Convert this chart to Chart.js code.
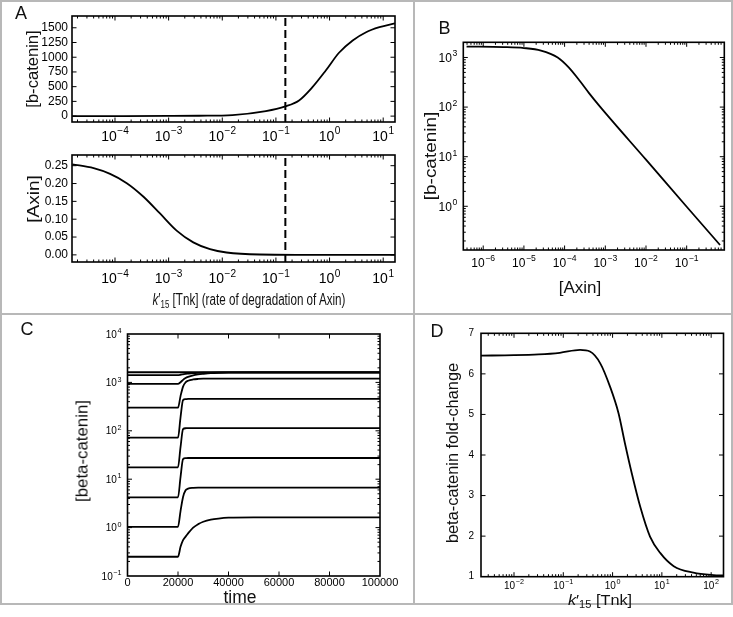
<!DOCTYPE html>
<html><head><meta charset="utf-8">
<script src="https://cdn.jsdelivr.net/npm/chart.js@4.4.1/dist/chart.umd.min.js"></script>
<style>
html,body{margin:0;padding:0;background:#fff;}
#fig{position:relative;width:733px;height:617px;overflow:hidden;background:#fff;font-family:"Liberation Sans",Arial,sans-serif;}
canvas{position:absolute;}
.rule{position:absolute;background:#b8b8b8;}
.lbl{position:absolute;white-space:nowrap;line-height:1;color:#111;}
.lbl sub{font-size:68%;vertical-align:-0.3em;line-height:0;}
</style></head><body><div id="fig"></div>
<script>
// ---------------- DATA ----------------
// Panel A (top): b-catenin vs k'15
const kBcat = [1.6e-5, 1e-4, 1e-3, 0.0037, 0.0155, 0.065, 0.15, 0.27, 0.48, 0.85, 1.5, 2.7, 4.8, 8.5, 16.5];
const bCatenin = [0.3, 0.8, 2.6, 6, 18, 85, 165, 266, 492, 775, 1076, 1285, 1425, 1510, 1576];
// Panel A (bottom): Axin vs k'15
const kAxin = [1.6e-5, 4e-5, 8.1e-5, 1.66e-4, 3.4e-4, 6.9e-4, 1.41e-3, 2.88e-3, 5.9e-3, 0.012, 0.05, 0.32, 16.5];
const axin = [0.254, 0.243, 0.227, 0.201, 0.163, 0.116, 0.068, 0.035, 0.016, 0.0066, 0.001, 0.0002, 0];
// Dashed reference value of k'15
const dashK = 0.15;
// Panel B: b-catenin vs Axin
const axinB = [3.9e-7, 3.16e-6, 1e-5, 2.63e-5, 6.76e-5, 1.26e-4, 2.4e-4, 3.98e-4, 7.41e-4, 0.01, 0.1, 0.66];
const bCatB = [1660, 1620, 1550, 1380, 1000, 631, 331, 191, 102, 8.7, 0.98, 0.166];
// Panel C: beta-catenin time courses
const timeC = [0, 20000, 21000, 22000, 23000, 24000, 26000, 28000, 30000, 33000, 36000, 40000, 50000, 100000];
const c1 = [0.25, 0.25, 0.4, 0.55, 0.65, 0.76, 1.0, 1.18, 1.32, 1.46, 1.54, 1.6, 1.62, 1.62];
const c2 = [1.04, 1.04, 2.2, 4.3, 5.9, 6.4, 6.65, 6.7, 6.7, 6.7, 6.7, 6.7, 6.7, 6.7];
const c3 = [4.2, 4.2, 11, 26, 27.2, 27.4, 27.4, 27.4, 27.4, 27.4, 27.4, 27.4, 27.4, 27.4];
const c4 = [17.6, 17.6, 46, 108, 113, 114, 114, 114, 114, 114, 114, 114, 114, 114];
const c5 = [72, 72, 190, 430, 450, 455, 456, 456, 456, 456, 456, 456, 456, 456];
const c6 = [300, 300, 520, 820, 1000, 1080, 1150, 1180, 1195, 1200, 1200, 1200, 1200, 1200];
const c7 = [930, 930, 1010, 1130, 1230, 1300, 1400, 1460, 1500, 1550, 1575, 1590, 1600, 1600];
const c8 = [1420, 1420, 1440, 1470, 1500, 1520, 1555, 1575, 1588, 1597, 1602, 1606, 1610, 1610];
const c9 = [1620, 1620, 1620, 1620, 1620, 1620, 1620, 1620, 1620, 1620, 1620, 1620, 1620, 1620];
const seriesC = [c1, c2, c3, c4, c5, c6, c7, c8, c9];
// Panel D: fold-change vs k'15
const kD = [0.00214, 0.01, 0.0316, 0.0851, 0.219, 0.347, 0.562, 0.891, 1.32, 1.78, 2.45, 3.63, 5.75, 9.33, 17.4, 43.7, 112, 178];
const foldD = [6.45, 6.46, 6.48, 6.52, 6.59, 6.55, 6.26, 5.68, 5.03, 4.29, 3.55, 2.73, 1.99, 1.58, 1.26, 1.10, 1.04, 1.03];
// Tick values
const ticksA_bcat = [0, 250, 500, 750, 1000, 1250, 1500];
const ticksA_axin = [0, 0.05, 0.10, 0.15, 0.20, 0.25];
const ticksC_time = [0, 20000, 40000, 60000, 80000, 100000];
const ticksD_fold = [1, 2, 3, 4, 5, 6, 7];

// ---------------- HELPERS ----------------
const FONT = '"Liberation Sans", Arial, sans-serif';
const decades = (a, b) => { const r = []; for (let e = a; e <= b; e++) r.push(Math.pow(10, e)); return r; };
const minors = (a, b) => { const r = []; for (let e = a; e <= b; e++) for (let m = 2; m <= 9; m++) r.push(m * Math.pow(10, e)); return r; };
const pts = (xs, ys) => xs.map((x, i) => ({x, y: ys[i]}));
const fig = document.getElementById('fig');

function rule(l, t, w, h) {
  const d = document.createElement('div'); d.className = 'rule';
  Object.assign(d.style, {left: l + 'px', top: t + 'px', width: w + 'px', height: h + 'px'});
  fig.appendChild(d);
}

// "10" with a raised exponent, matplotlib style
function drawPow(ctx, x, base, v, f, align) {
  const ex = Math.round(Math.log10(v));
  const e = ex < 0 ? '\u2212' + Math.abs(ex) : String(ex);
  const fe = f * 0.72;
  ctx.font = f + 'px ' + FONT;
  const w10 = ctx.measureText('10').width;
  ctx.font = fe + 'px ' + FONT;
  const we = ctx.measureText(e).width;
  const total = w10 + 0.6 + we;
  const x0 = align === 'center' ? x - total / 2 : x - total;
  ctx.font = f + 'px ' + FONT;
  ctx.fillText('10', x0, base);
  ctx.font = fe + 'px ' + FONT;
  ctx.fillText(e, x0 + w10 + 0.6, base - f * 0.45);
}

function makeFrame(t) {
  return {
    id: 'frame',
    afterDatasetsDraw(chart) {
      const {ctx, chartArea: a} = chart;
      const xs = chart.scales.x, ys = chart.scales.y;
      ctx.save();
      ctx.strokeStyle = '#000';
      ctx.lineWidth = 1;
      ctx.beginPath();
      const xt = (vals, len) => vals.forEach(v => {
        const p = xs.getPixelForValue(v);
        if (p < a.left + 1 || p > a.right - 1) return;
        ctx.moveTo(p, a.bottom); ctx.lineTo(p, a.bottom - len);
        ctx.moveTo(p, a.top); ctx.lineTo(p, a.top + len);
      });
      const yt = (vals, len) => vals.forEach(v => {
        const p = ys.getPixelForValue(v);
        if (p < a.top + 1 || p > a.bottom - 1) return;
        ctx.moveTo(a.left, p); ctx.lineTo(a.left + len, p);
        ctx.moveTo(a.right, p); ctx.lineTo(a.right - len, p);
      });
      xt(t.xMaj || [], 4.5); xt(t.xMin || [], 2.5);
      yt(t.yMaj || [], 4.5); yt(t.yMin || [], 2.5);
      ctx.stroke();
      ctx.lineWidth = 1.6;
      ctx.strokeRect(a.left, a.top, a.right - a.left, a.bottom - a.top);
      // power-of-ten tick labels
      ctx.fillStyle = '#000';
      ctx.textAlign = 'left';
      ctx.textBaseline = 'alphabetic';
      if (t.logX) t.logX.vals.forEach(v => {
        drawPow(ctx, xs.getPixelForValue(v), a.bottom + t.logX.dc + 0.36 * t.logX.f, v, t.logX.f, 'center');
      });
      if (t.logY) t.logY.vals.forEach(v => {
        drawPow(ctx, a.left - t.logY.pad, ys.getPixelForValue(v) + 0.36 * t.logY.f, v, t.logY.f, 'right');
      });
      ctx.restore();
    }
  };
}

function axis(s, fit) {
  return {
    type: s.type, min: s.min, max: s.max,
    grid: {display: false, drawTicks: false},
    border: {display: false},
    afterBuildTicks: sc => { sc.ticks = s.labels.map(v => ({value: v})); },
    afterFit: fit,
    ticks: {
      autoSkip: false, maxRotation: 0, minRotation: 0, padding: s.pad || 0, color: '#000',
      font: {family: FONT, size: s.font || 10},
      callback: s.fmt || (() => '')
    }
  };
}

function makeChart(box, plot, spec) {
  const c = document.createElement('canvas');
  c.width = box.W; c.height = box.H;
  Object.assign(c.style, {left: box.L + 'px', top: box.T + 'px', width: box.W + 'px', height: box.H + 'px'});
  fig.appendChild(c);
  new Chart(c, {
    type: 'scatter',
    data: {datasets: spec.datasets},
    options: {
      animation: false, responsive: false, devicePixelRatio: 1,
      events: [],
      layout: {padding: {left: 0, bottom: 0, top: plot.t - box.T, right: box.L + box.W - plot.r}},
      plugins: {legend: {display: false}, tooltip: {enabled: false}},
      scales: {
        x: axis(spec.x, sc => { sc.height = box.T + box.H - plot.b; }),
        y: axis(spec.y, sc => { sc.width = plot.l - box.L; })
      }
    },
    plugins: [makeFrame(spec.ticks)]
  });
}

const curve = (data) => ({data, showLine: true, borderColor: '#000', borderWidth: 1.8, pointRadius: 0, cubicInterpolationMode: 'monotone', fill: false});
const dashed = (data) => ({data, showLine: true, borderColor: '#000', borderWidth: 2, pointRadius: 0, tension: 0, borderDash: [8, 4], fill: false});

// ---------------- RULES ----------------
rule(0, 0, 733, 2);
rule(0, 0, 2, 605);
rule(731, 0, 2, 605);
rule(0, 603, 733, 2);
rule(413, 0, 1.5, 605);
rule(0, 313, 733, 1.5);

// ---------------- CHARTS ----------------
const kMinX = 1.58e-5, kMaxX = 16.6;
// A top
makeChart({L: 0, T: 0, W: 420, H: 150}, {l: 72, t: 16, r: 395, b: 122}, {
  datasets: [curve(pts(kBcat, bCatenin)), dashed([{x: dashK, y: -100}, {x: dashK, y: 1700}])],
  x: {type: 'logarithmic', min: kMinX, max: kMaxX, labels: decades(-4, 1)},
  y: {type: 'linear', min: -100, max: 1700, labels: ticksA_bcat, fmt: v => String(v), font: 12, pad: 4},
  ticks: {xMaj: decades(-5, 1), xMin: minors(-5, 1), yMaj: ticksA_bcat, logX: {vals: decades(-4, 1), f: 14, dc: 13.5}}
});
// A bottom
makeChart({L: 0, T: 140, W: 420, H: 155}, {l: 72, t: 155, r: 395, b: 262}, {
  datasets: [curve(pts(kAxin, axin)), dashed([{x: dashK, y: -0.02}, {x: dashK, y: 0.28}])],
  x: {type: 'logarithmic', min: kMinX, max: kMaxX, labels: decades(-4, 1)},
  y: {type: 'linear', min: -0.02, max: 0.28, labels: ticksA_axin, fmt: v => v.toFixed(2), font: 12, pad: 4},
  ticks: {xMaj: decades(-5, 1), xMin: minors(-5, 1), yMaj: ticksA_axin, logX: {vals: decades(-4, 1), f: 14, dc: 16.3}}
});
// B
makeChart({L: 414, T: 20, W: 319, H: 260}, {l: 463.3, t: 42.3, r: 724.3, b: 250}, {
  datasets: [curve(pts(axinB, bCatB))],
  x: {type: 'logarithmic', min: 3.24e-7, max: 0.84, labels: decades(-6, -1)},
  y: {type: 'logarithmic', min: 0.1315, max: 2023, labels: decades(0, 3)},
  ticks: {xMaj: decades(-7, 0), xMin: minors(-7, 0), yMaj: decades(-1, 4), yMin: minors(-1, 4),
          logX: {vals: decades(-6, -1), f: 12, dc: 12.5}, logY: {vals: decades(0, 3), f: 12, pad: 6}}
});
// C
makeChart({L: 88, T: 316, W: 322, H: 301}, {l: 127.5, t: 334, r: 380, b: 576}, {
  datasets: seriesC.map(s => curve(pts(timeC, s))),
  x: {type: 'linear', min: 0, max: 100000, labels: ticksC_time, fmt: v => String(v), font: 11, pad: 0},
  y: {type: 'logarithmic', min: 0.1, max: 10000, labels: decades(-1, 4)},
  ticks: {xMaj: ticksC_time, yMaj: decades(-1, 4), yMin: minors(-1, 3), logY: {vals: decades(-1, 4), f: 10, pad: 6}}
});
// D
makeChart({L: 455, T: 316, W: 278, H: 301}, {l: 481, t: 333.3, r: 723.5, b: 576.7}, {
  datasets: [curve(pts(kD, foldD))],
  x: {type: 'logarithmic', min: 0.00214, max: 178, labels: decades(-2, 2)},
  y: {type: 'linear', min: 1, max: 7, labels: ticksD_fold, fmt: v => String(v), font: 10, pad: 7},
  ticks: {xMaj: decades(-3, 2), xMin: minors(-3, 2), yMaj: ticksD_fold, logX: {vals: decades(-2, 2), f: 10, dc: 8.5}}
});

// ---------------- TEXT LABELS ----------------
function addLabel(o) {
  const d = document.createElement('div');
  d.className = 'lbl';
  d.innerHTML = o.html;
  d.style.fontSize = o.size + 'px';
  d.style.fontFamily = o.family || FONT;
  d.style.left = o.x + 'px'; d.style.top = o.y + 'px';
  fig.appendChild(d);
  let s = 1;
  if (o.len) { s = o.len / d.offsetWidth; s = Math.max(o.minS || 0.8, Math.min(1.2, s)); }
  d.style.transform = 'translate(-50%,-50%)' + (o.rot ? ' rotate(-90deg)' : '') + ' scaleX(' + s.toFixed(3) + ')';
}
const K15 = '<i>k</i>′<sub>15</sub>';
[
  {html: 'A', x: 21, y: 13, size: 18},
  {html: 'B', x: 444.5, y: 27.5, size: 18},
  {html: 'C', x: 27, y: 329, size: 18},
  {html: 'D', x: 437, y: 331, size: 18},
  {html: '[b-catenin]', x: 31.7, y: 69, size: 17, rot: true, len: 77},
  {html: '[Axin]', x: 33, y: 199, size: 17, rot: true, len: 48},
  {html: K15 + ' [Tnk] (rate of degradation of Axin)', x: 248.5, y: 300, size: 16, len: 193, minS: 0.65},
  {html: '[b-catenin]', x: 430, y: 156, size: 17, rot: true, len: 88},
  {html: '[Axin]', x: 580, y: 287, size: 17, len: 43},
  {html: '[beta-catenin]', x: 82, y: 451, size: 17, rot: true, len: 102},
  {html: 'time', x: 240, y: 597, size: 18, len: 33},
  {html: 'beta-catenin fold-change', x: 451.7, y: 453, size: 17, rot: true, len: 180},
  {html: K15 + ' [Tnk]', x: 600, y: 599, size: 15, len: 64}
].forEach(addLabel);
</script>
</body></html>
